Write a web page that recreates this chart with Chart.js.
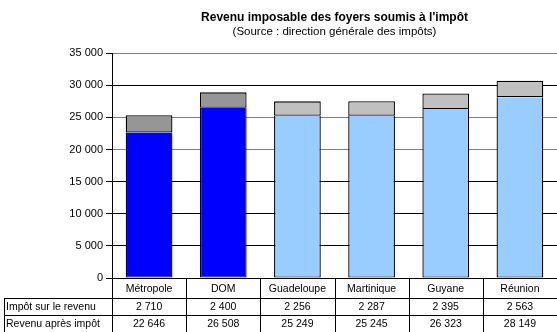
<!DOCTYPE html>
<html>
<head>
<meta charset="utf-8">
<script src="https://cdn.jsdelivr.net/npm/chart.js@4"></script>
<style>
  html, body { margin: 0; padding: 0; background: #fff; overflow: hidden; }
  #wrap { width: 557px; height: 332px; position: relative; }
</style>
</head>
<body>
<div id="wrap"><canvas id="chart"></canvas></div>
<script>
const categories = ["Métropole", "DOM", "Guadeloupe", "Martinique", "Guyane", "Réunion"];
const impotSurLeRevenu = [2710, 2400, 2256, 2287, 2395, 2563];
const revenuApresImpot = [22646, 26508, 25249, 25245, 26323, 28149];
const rowLabels = ["Impôt sur le revenu", "Revenu après impôt"];

const fontFamily = "'Liberation Sans', Arial, sans-serif";

function fmt(v) {
  return String(v).replace(/\B(?=(\d{3})+(?!\d))/g, " ");
}

// table under the plot, drawn from the data arrays and the x scale
const dataTable = {
  id: "dataTable",
  afterDraw(chart) {
    const ctx = chart.ctx;
    const area = chart.chartArea;
    const x = chart.scales.x;
    const colW = (area.right - area.left) / categories.length;
    const y0 = area.bottom;
    const y1 = y0 + 20;
    const y2 = y1 + 17;
    const y3 = y2 + 17;
    const labelLeft = 4;

    ctx.save();
    ctx.strokeStyle = "#000";
    ctx.lineWidth = 1;
    ctx.beginPath();
    // horizontal lines
    ctx.moveTo(labelLeft, y1 + 0.5); ctx.lineTo(area.right, y1 + 0.5);
    ctx.moveTo(labelLeft, y2 + 0.5); ctx.lineTo(area.right, y2 + 0.5);
    // label column left border
    ctx.moveTo(labelLeft + 0.5, y1); ctx.lineTo(labelLeft + 0.5, y3 + 2);
    // column separators
    for (let i = 0; i <= categories.length; i++) {
      const px = Math.round(area.left + i * colW) + 0.5;
      ctx.moveTo(px, y0); ctx.lineTo(px, y3 + 2);
    }
    ctx.stroke();

    ctx.fillStyle = "#000";
    ctx.font = "10.5px " + fontFamily;
    ctx.textBaseline = "middle";
    ctx.textAlign = "center";
    categories.forEach((c, i) => {
      const cx = x.getPixelForValue(i);
      ctx.fillText(c, cx, (y0 + y1) / 2 + 1);
      ctx.fillText(fmt(impotSurLeRevenu[i]), cx, (y1 + y2) / 2 + 1);
      ctx.fillText(fmt(revenuApresImpot[i]), cx, (y2 + y3) / 2 + 1);
    });
    ctx.textAlign = "left";
    ctx.fillText(rowLabels[0], labelLeft + 2, (y1 + y2) / 2 + 1);
    ctx.fillText(rowLabels[1], labelLeft + 2, (y2 + y3) / 2 + 1);
    ctx.restore();
  }
};

Chart.defaults.color = "#000";
Chart.defaults.font.family = fontFamily;

let ctx = document.getElementById("chart").getContext("2d");

let chart = new Chart(ctx, {
  type: "bar",
  data: {
    labels: categories,
    datasets: [
      {
        label: rowLabels[1],
        data: revenuApresImpot,
        backgroundColor: ["#0000FF", "#0000FF", "#99CCFF", "#99CCFF", "#99CCFF", "#99CCFF"],
        borderColor: "#000",
        borderWidth: { top: 0, left: 1.3, right: 1.3, bottom: 1 },
        borderSkipped: false,
        barPercentage: 0.63,
        categoryPercentage: 1
      },
      {
        label: rowLabels[0],
        data: impotSurLeRevenu,
        backgroundColor: ["#969696", "#969696", "#C0C0C0", "#C0C0C0", "#C0C0C0", "#C0C0C0"],
        borderColor: "#000",
        borderWidth: 1.3,
        borderSkipped: false,
        barPercentage: 0.63,
        categoryPercentage: 1
      }
    ]
  },
  options: {
    responsive: true,
    maintainAspectRatio: false,
    animation: false,
    layout: { padding: { top: 0, right: 0, bottom: 54, left: 0 } },
    plugins: {
      legend: { display: false },
      tooltip: { enabled: false },
      title: {
        display: true,
        text: "Revenu imposable des foyers soumis à l'impôt",
        fullSize: false,
        font: { size: 12, weight: "bold" },
        padding: { top: 10, bottom: 1 }
      },
      subtitle: {
        display: true,
        text: "(Source : direction générale des impôts)",
        fullSize: false,
        color: "#000",
        font: { size: 11.5 },
        padding: { top: 0, bottom: 14 }
      }
    },
    scales: {
      x: {
        display: false,
        stacked: true
      },
      y: {
        stacked: true,
        min: 0,
        max: 35000,
        border: { color: "#000", width: 1 },
        grid: {
          color: (c) => [35000, 25000, 20000].includes(c.tick && c.tick.value) ? "#808080" : "#000",
          tickColor: "#000",
          tickLength: 6
        },
        ticks: {
          stepSize: 5000,
          padding: 3,
          font: { size: 11 },
          callback: (v) => fmt(v)
        },
        afterFit(scale) { scale.width = 112; }
      }
    }
  },
  plugins: [dataTable]
});
</script>
</body>
</html>
